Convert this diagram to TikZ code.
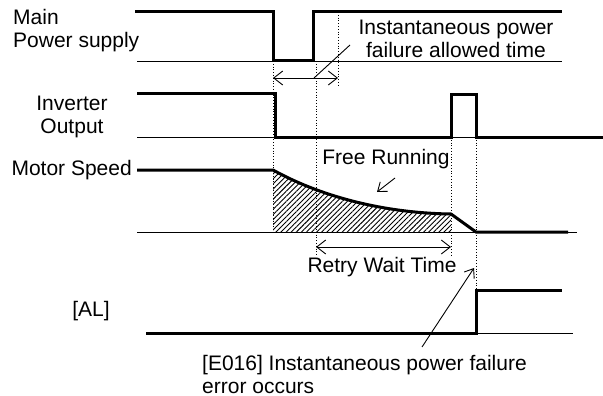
\documentclass[tikz,border=0pt]{standalone}
\usepackage{fontspec}
\setmainfont{Liberation Sans}
\usepackage{tikz}
\usetikzlibrary{arrows.meta, patterns.meta, calc}

\tikzset{
  sig/.style={line width=3pt, line join=miter},
  base/.style={line width=0.9pt},
  guide/.style={line width=0.8pt, dotted},
  dim/.style={line width=0.9pt, {Straight Barb[length=9pt,width=14pt]}-{Straight Barb[length=9pt,width=14pt]}},
  lead/.style={line width=0.9pt, -{Straight Barb[length=8pt,width=12pt]}}
}

\begin{document}
\begin{tikzpicture}[x=1pt, y=-1pt, font=\fontsize{21pt}{23pt}\selectfont, inner sep=0pt]
  \useasboundingbox (0,0) rectangle (603,396);

  % Labels on the left
  \node[anchor=west, align=left] (main) at (13,31) {Main\\Power supply};
  \node[align=center] (inv) at (72,117) {Inverter\\Output};
  \node[anchor=east] (motor) at (132,170) {Motor Speed};
  \node (al) at (91,311) {[AL]};

  % Hatched area under the coasting curve
  \fill[pattern={Lines[angle=45, distance=3.6pt, line width=0.9pt]}]
    (273,232) -- (273,170) .. controls (318,195) and (380,213) .. (451,214) -- (451,232) -- cycle;

  % Base lines
  \draw[base] (137,61) -- (562,61);
  \draw[base] (137,137) -- (603,137);
  \draw[base] (137,232) -- (577,232);
  \draw[base] (146,333) -- (573,333);

  % Dotted time marks
  \draw[guide] (273,61) -- (273,232);
  \draw[guide] (316,61) -- (316,255);
  \draw[guide] (338,12) -- (338,87);
  \draw[guide] (451,137) -- (451,256);
  \draw[guide] (476,137) -- (476,290);

  % Main power supply
  \draw[sig] (135,12) -- (273,12) -- (273,61) -- (313,61) -- (313,12) -- (562,12);

  % Inverter output
  \draw[sig] (137,94) -- (275,94) -- (275,137) -- (451,137) -- (451,95) -- (476,95) -- (476,137) -- (603,137);

  % Motor speed
  \draw[sig] (137,170) -- (273,170) .. controls (318,195) and (380,213) .. (451,214) -- (476,232) -- (568,232);

  % [AL]
  \draw[sig] (146,333) -- (476,333) -- (476,290) -- (562,290);

  % Instantaneous power failure allowed time
  \coordinate (ta) at (273,78);
  \coordinate (tb) at (338,78);
  \coordinate (tm) at (314,78);
  \draw[dim] (ta) -- (tb);
  \node[align=center] (allowed) at (456,39) {Instantaneous power\\failure allowed time};
  \draw[base] (tm) -- (350,45);

  % Free running
  \node (free) at (386,159) {Free Running};
  \coordinate (fr) at (377,192);
  \draw[lead] (395,178) -- (fr);

  % Retry wait time
  \coordinate (ra) at (316,247);
  \coordinate (rb) at (451,247);
  \draw[dim] (ra) -- (rb);
  \node (retry) at (382,267) {Retry Wait Time};

  % Error message
  \node[anchor=west, align=left] (err) at (202,374) {[E016] Instantaneous power failure\\error occurs};
  \coordinate (eo) at (474,268);
  \draw[lead] (422,347) -- (eo);
\end{tikzpicture}
\end{document}
